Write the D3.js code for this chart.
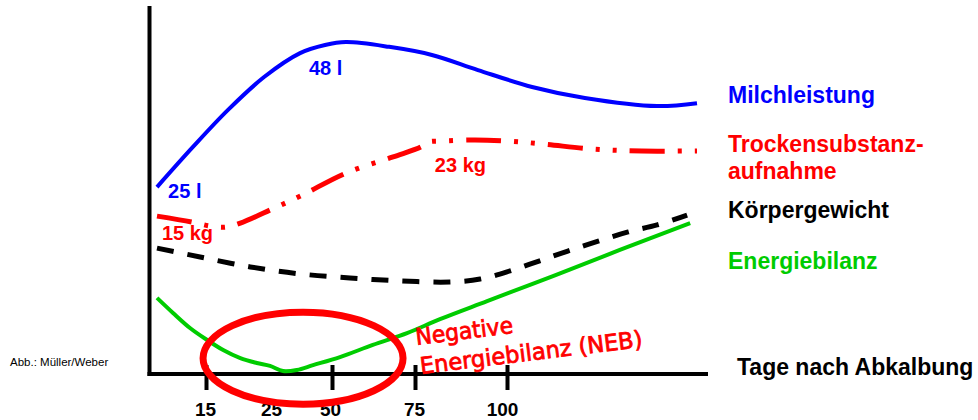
<!DOCTYPE html>
<html>
<head>
<meta charset="utf-8">
<script src="https://cdn.jsdelivr.net/npm/d3@7"></script>
<style>
  html, body { margin: 0; padding: 0; background: #fff; }
  svg { display: block; }
  text { font-family: "Liberation Sans", Arial, sans-serif; }
</style>
</head>
<body>
<svg id="chart" width="978" height="420"></svg>
<script>
// ---- data (schematic: x = Tage nach Abkalbung, y = relative index 0..100) ----
const tickDays   = [15, 25, 50, 75, 100];
const tickLabels = ["15", "25", "50", "75", "100"];

const milkX = [0, 11, 18.3, 23.8, 36.7, 47.1, 54.2, 67.2, 79.6, 92.1, 106.6, 120.5, 139.5, 150];
const milkY = [50.8, 61.7, 71.7, 80.7, 87.2, 89.4, 90.2, 88.9, 86.7, 82.6, 78.0, 75.0, 72.8, 73.6];

const dmX = [0, 10.7, 15.6, 17.9, 20.2, 25, 37.5, 54.2, 68.4, 76.6, 78.5, 82.1, 91.3, 100, 109.5, 122.6, 135.5, 150];
const dmY = [42.9, 41.3, 40.2, 39.9, 41.0, 44.8, 48.6, 54.6, 59.0, 61.7, 63.0, 63.3, 63.6, 63.3, 62.5, 61.1, 60.6, 60.6];

const bwX = [0, 13.2, 21.7, 36.7, 55.4, 70.5, 84.5, 92.7, 100.8, 108.4, 116.0, 124.0, 131.9, 139.5, 147.4];
const bwY = [34.2, 31.8, 29.1, 27.2, 26.1, 25.3, 25.0, 25.8, 28.0, 30.7, 33.4, 36.1, 38.6, 40.5, 43.2];

const ebX = [0, 4.9, 10.1, 15.2, 17.6, 20.2, 22.7, 24.7, 29.6, 35.4, 42.1, 52.4, 62.3, 72.6, 81.8, 94.6, 112.1, 129.7, 148.2];
const ebY = [20.7, 16.6, 12.5, 9.2, 6.5, 4.3, 3.0, 2.2, 0.8, 1.1, 2.4, 4.6, 7.9, 11.1, 14.9, 19.8, 26.6, 33.7, 41.0];

const seriesNames = [["Milchleistung"], ["Trockensubstanz-", "aufnahme"], ["Körpergewicht"], ["Energiebilanz"]];
const valueLabels = ["25 l", "48 l", "15 kg", "23 kg"];
const valueLabelX = [3.4, 40.4, 1.5, 80.4];
const valueLabelY = [47.8, 81.3, 36.4, 54.9];
const nebLines = ["Negative", "Energiebilanz (NEB)"];
const xAxisTitle = "Tage nach Abkalbung";
const sourceNote = "Abb.: Müller/Weber";

// ---- layout ----
const svg = d3.select("#chart");
const x = d3.scaleLinear().domain([0, 15, 25, 50, 75, 100, 150]).range([157, 206, 272, 332, 415, 507, 697]);
const y = d3.scaleLinear().domain([0, 100]).range([374, 6]);

const COLORS = ["#0000ff", "#ff0000", "#000000", "#00cc00"];

// axes lines
svg.append("line").attr("x1", 149.5).attr("x2", 149.5).attr("y1", 6).attr("y2", 376)
  .attr("stroke", "#000").attr("stroke-width", 4);
svg.append("line").attr("x1", 147.5).attr("x2", 708).attr("y1", y(0)).attr("y2", y(0))
  .attr("stroke", "#000").attr("stroke-width", 4);

const axis = d3.axisBottom(x).tickValues(tickDays)
  .tickFormat((d, i) => tickLabels[i]).tickSize(25).tickPadding(12.5);
const gx = svg.append("g").attr("transform", "translate(0,365)").call(axis);
gx.select(".domain").remove();
gx.selectAll(".tick line").attr("stroke", "#000").attr("stroke-width", 4)
  .filter(d => d === 25).remove();
gx.selectAll(".tick text").attr("fill", "#000")
  .style("font-family", '"Liberation Sans", Arial, sans-serif')
  .style("font-size", "19px").style("font-weight", "bold")
  .attr("dx", d => d === 100 ? -5 : (d === 50 ? -2 : -1));

// lines
const mk = (xs, ys) => xs.map((d, i) => ({ d, v: ys[i] }));
const line = d3.line().x(p => x(p.d)).y(p => y(p.v)).curve(d3.curveCatmullRom.alpha(0.5));

svg.append("path").datum(mk(milkX, milkY)).attr("d", line)
  .attr("fill", "none").attr("stroke", COLORS[0]).attr("stroke-width", 4);
svg.append("path").datum(mk(dmX, dmY)).attr("d", line)
  .attr("fill", "none").attr("stroke", COLORS[1]).attr("stroke-width", 5)
  .attr("stroke-dasharray", "35,13,4,13,4,13");
svg.append("path").datum(mk(bwX, bwY)).attr("d", line)
  .attr("fill", "none").attr("stroke", COLORS[2]).attr("stroke-width", 5)
  .attr("stroke-dasharray", "17,14");
svg.append("path").datum(mk(ebX, ebY)).attr("d", line)
  .attr("fill", "none").attr("stroke", COLORS[3]).attr("stroke-width", 4);

// value labels
const vlColors = [COLORS[0], COLORS[0], COLORS[1], COLORS[1]];
valueLabels.forEach((t, i) => {
  svg.append("text").attr("x", x(valueLabelX[i])).attr("y", y(valueLabelY[i]))
    .attr("fill", vlColors[i]).style("font-size", "20px").style("font-weight", "bold").text(t);
});

// legend labels
const legendBaselines = [[103], [152, 179], [218], [269]];
seriesNames.forEach((lines, i) => {
  lines.forEach((t, j) => {
    svg.append("text").attr("x", 728).attr("y", legendBaselines[i][j])
      .attr("fill", COLORS[i]).style("font-size", "23px").style("font-weight", "bold").text(t);
  });
});

// axis title
svg.append("text").attr("x", 737).attr("y", 375).attr("fill", "#000")
  .style("font-size", "23px").style("font-weight", "bold").text(xAxisTitle);

// source note
svg.append("text").attr("x", 10).attr("y", 366).attr("fill", "#000")
  .style("font-size", "11.5px").text(sourceNote);

// NEB ellipse
const ex0 = x(14.1), ex1 = x(71.4), ey0 = y(16.8), ey1 = y(-8.2);
svg.append("ellipse").attr("cx", (ex0 + ex1) / 2).attr("cy", (ey0 + ey1) / 2)
  .attr("rx", (ex1 - ex0) / 2).attr("ry", (ey1 - ey0) / 2)
  .attr("fill", "none").attr("stroke", "#ff0000").attr("stroke-width", 7);

// NEB text
const nebPos = [[75.4, 7.9], [76.6, 0]];
const nebLen = [98, 224];
nebLines.forEach((t, i) => {
  const px = x(nebPos[i][0]), py = y(nebPos[i][1]);
  svg.append("text").attr("transform", `translate(${px},${py}) rotate(-7)`)
    .attr("fill", "#ff0000").attr("stroke", "#ff0000").attr("stroke-width", 0.8)
    .style("font-family", '"DejaVu Sans", sans-serif').style("font-size", "23px")
    .attr("textLength", nebLen[i]).attr("lengthAdjust", "spacingAndGlyphs")
    .text(t);
});
</script>
</body>
</html>
